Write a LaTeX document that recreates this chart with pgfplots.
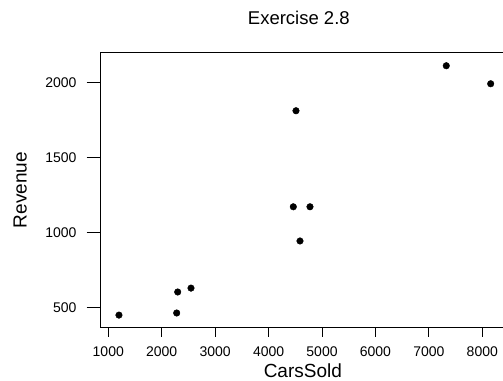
\documentclass[border=0pt]{standalone}
\usepackage{pgfplots}
\pgfplotsset{compat=1.18}
\usepackage{fontspec}
\setmainfont{Liberation Sans}
\begin{document}
\begin{tikzpicture}
\useasboundingbox (-100.7bp,-53.3bp) rectangle (402.3bp,327.7bp);
\begin{axis}[
 at={(0,0)}, anchor=south west,
 scale only axis, width=404.3bp, height=275bp,
 xmin=858, xmax=8425, ymin=367, ymax=2200,
 axis line style={black, line width=0.8bp},
 tick pos=left, tick align=outside, major tick length=14bp,
 xtick style={/pgfplots/major tick length=9bp},
 tick style={black, line width=0.8bp},
 xtick={1000,2000,3000,4000,5000,6000,7000,8000},
 ytick={500,1000,1500,2000},
 scaled ticks=false,
 /pgf/number format/.cd, set thousands separator={}, assume math mode=true,
 /pgfplots/.cd,
 ticklabel style={font=\fontsize{14bp}{16bp}\selectfont},
 xticklabel style={inner sep=0pt, anchor=north, yshift=-4.5bp},
 yticklabel style={inner sep=0pt, anchor=east, xshift=-10bp},
 xlabel={CarsSold}, ylabel={Revenue}, title={Exercise 2.8},
 label style={font=\fontsize{19bp}{22bp}\selectfont},
 title style={font=\fontsize{18.5bp}{22bp}\selectfont, at={(axis description cs:0.49,1)}, anchor=base, yshift=22.5bp},
 xlabel style={at={(axis description cs:0.5,0)}, anchor=base, yshift=-50bp},
 ylabel style={at={(axis description cs:-0.183,0.5)}, anchor=base},
]
\addplot[only marks, mark=*, mark size=3.3bp, black] coordinates {
(1200,451) (2280,465) (2299,605) (2548,631) (4513,1813)
(4463,1173) (4775,1173) (4588,945) (7326,2113) (8157,1993)
};
\end{axis}
\end{tikzpicture}
\end{document}
